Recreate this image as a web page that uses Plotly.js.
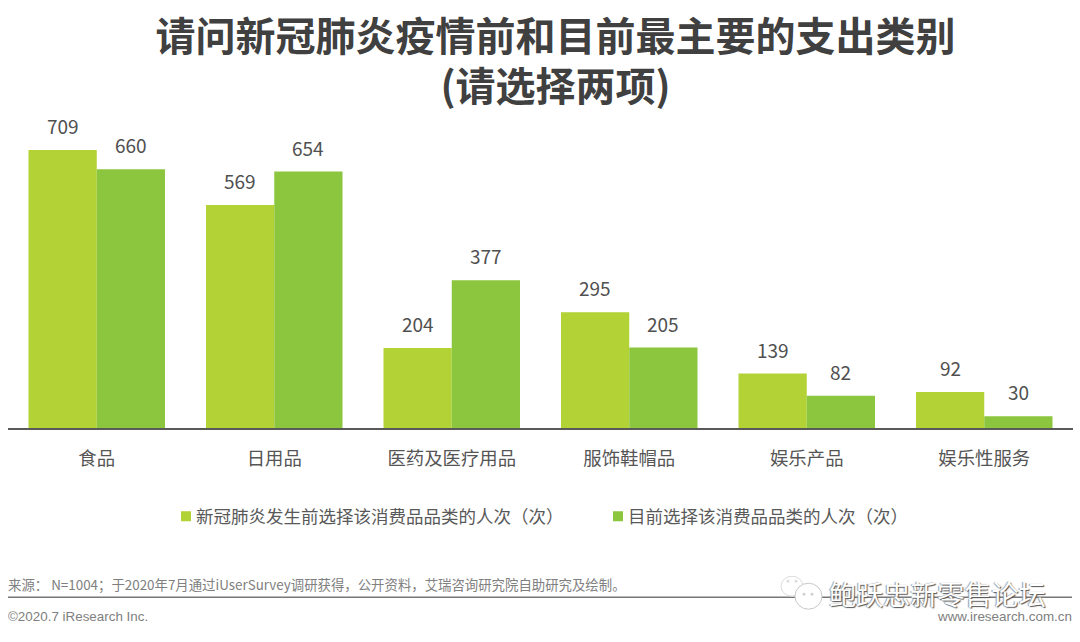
<!DOCTYPE html>
<html><head><meta charset="utf-8">
<script src="https://cdn.plot.ly/plotly-3.0.1.min.js"></script>
<style>html,body{margin:0;padding:0;background:#fff}</style></head>
<body><div id="chart" style="width:1080px;height:642px"></div>
<script>
const categories = ['食品','日用品','医药及医疗用品','服饰鞋帽品','娱乐产品','娱乐性服务'];
const beforeValues = [709,569,204,295,139,92];
const currentValues = [660,654,377,205,82,30];
const beforeName = '新冠肺炎发生前选择该消费品品类的人次（次）';
const currentName = '目前选择该消费品品类的人次（次）';
const CJK = '"Noto Sans CJK SC","Noto Sans",sans-serif';
const LATIN = '"Liberation Sans",sans-serif';
const W = 1080, H = 642;
const M = {l:8, r:7, t:130, b:213.5};
const px = x => (x - M.l) / (W - M.l - M.r);
const py = y => (H - M.b - y) / (H - M.t - M.b);
const bar = (name, y, color) => ({type:'bar', name, x:categories, y, marker:{color}});
const note = (text, x, y, size, color, anchor, family) => ({
  text, xref:'paper', yref:'paper', x:px(x), y:py(y), xanchor:anchor, yanchor:'middle',
  showarrow:false, font:{family:family||CJK, size, color}
});
const valueLabels = (vals, shift) => vals.map((v,i) => ({
  text:String(v), xref:'x', yref:'y', x:categories[i], y:v, xanchor:'center', yanchor:'bottom',
  xshift:shift, yshift:9, showarrow:false, font:{family:CJK, size:19, color:'#505050'}
}));
const ring = (x0,x1,y0,y1,color) => ({type:'circle',xref:'paper',yref:'paper',x0:px(x0),x1:px(x1),y0:py(y1),y1:py(y0),fillcolor:'#fff',line:{color,width:1}});
const layout = {
  width:W, height:H, margin:M, paper_bgcolor:'#fff', plot_bgcolor:'#fff',
  barmode:'group', bargap:0.231, bargroupgap:0,
  title:{text:'<span style="font-size:40px">请问新冠肺炎疫情前和目前最主要的支出类别</span><br><span style="font-size:40px">(请选择两项)</span>',
    x:555.5/W, xanchor:'center', xref:'container', y:1-51/H, yanchor:'middle',
    font:{family:CJK, size:38.5, color:'#404040', weight:700}},
  xaxis:{tickfont:{family:CJK, size:18.4, color:'#555555'}, ticks:'', showline:true,
    linecolor:'#595959', linewidth:1.5, ticklabelstandoff:13},
  yaxis:{range:[0,760], visible:false, showgrid:false, zeroline:false},
  showlegend:true,
  legend:{orientation:'h', x:px(166), xanchor:'left', y:py(517), yanchor:'middle',
    font:{family:CJK, size:17.5, color:'#595959'}, traceorder:'normal', entrywidthmode:'pixels', entrywidth:387},
  annotations:[
    ...valueLabels(beforeValues,-34), ...valueLabels(currentValues,34),
    note('来源： N=1004；于2020年7月通过iUserSurvey调研获得，公开资料，艾瑞咨询研究院自助研究及绘制。',6,585,13.4,'#808080','left'),
    note('©2020.7 iResearch Inc.',6,617,13.4,'#808080','left',LATIN),
    note('www.iresearch.com.cn',1074,617,13.4,'#808080','right',LATIN),
    {text:'鲍跃忠新零售论坛',xref:'paper',yref:'paper',x:px(827),y:py(594),xanchor:'left',yanchor:'middle',showarrow:false,
     font:{family:CJK,size:27.1,color:'#ffffff',shadow:'1px 1px 1px #555, -1px 0 1px #999'}}
  ],
  shapes:[
    {type:'line',xref:'paper',yref:'paper',x0:px(8),x1:px(1072),y0:py(598),y1:py(598),line:{color:'#777',width:1.5},layer:'below'},
    ring(781,803,577,597,'#dcdcdc'), ring(795,822,584,610,'#c8c8c8'),
    ring(787,789,581,583,'#d0d0d0'), ring(795,797,581,583,'#d0d0d0'),
    ring(803,805,594,596,'#c0c0c0'), ring(811,813,594,596,'#c0c0c0')
  ]
};
const gd = document.getElementById('chart');
Plotly.newPlot(gd,[bar(beforeName,beforeValues,'#B2D235'),bar(currentName,currentValues,'#8CC63F')],layout,{displayModeBar:false,responsive:false}).then(() => {
  gd.querySelectorAll('.legendtext').forEach(t => t.setAttribute('x', 30));
  gd.querySelectorAll('.legendpoints path').forEach(p => p.setAttribute('d','M5,5H-5V-5H5Z'));
});
</script></body></html>
